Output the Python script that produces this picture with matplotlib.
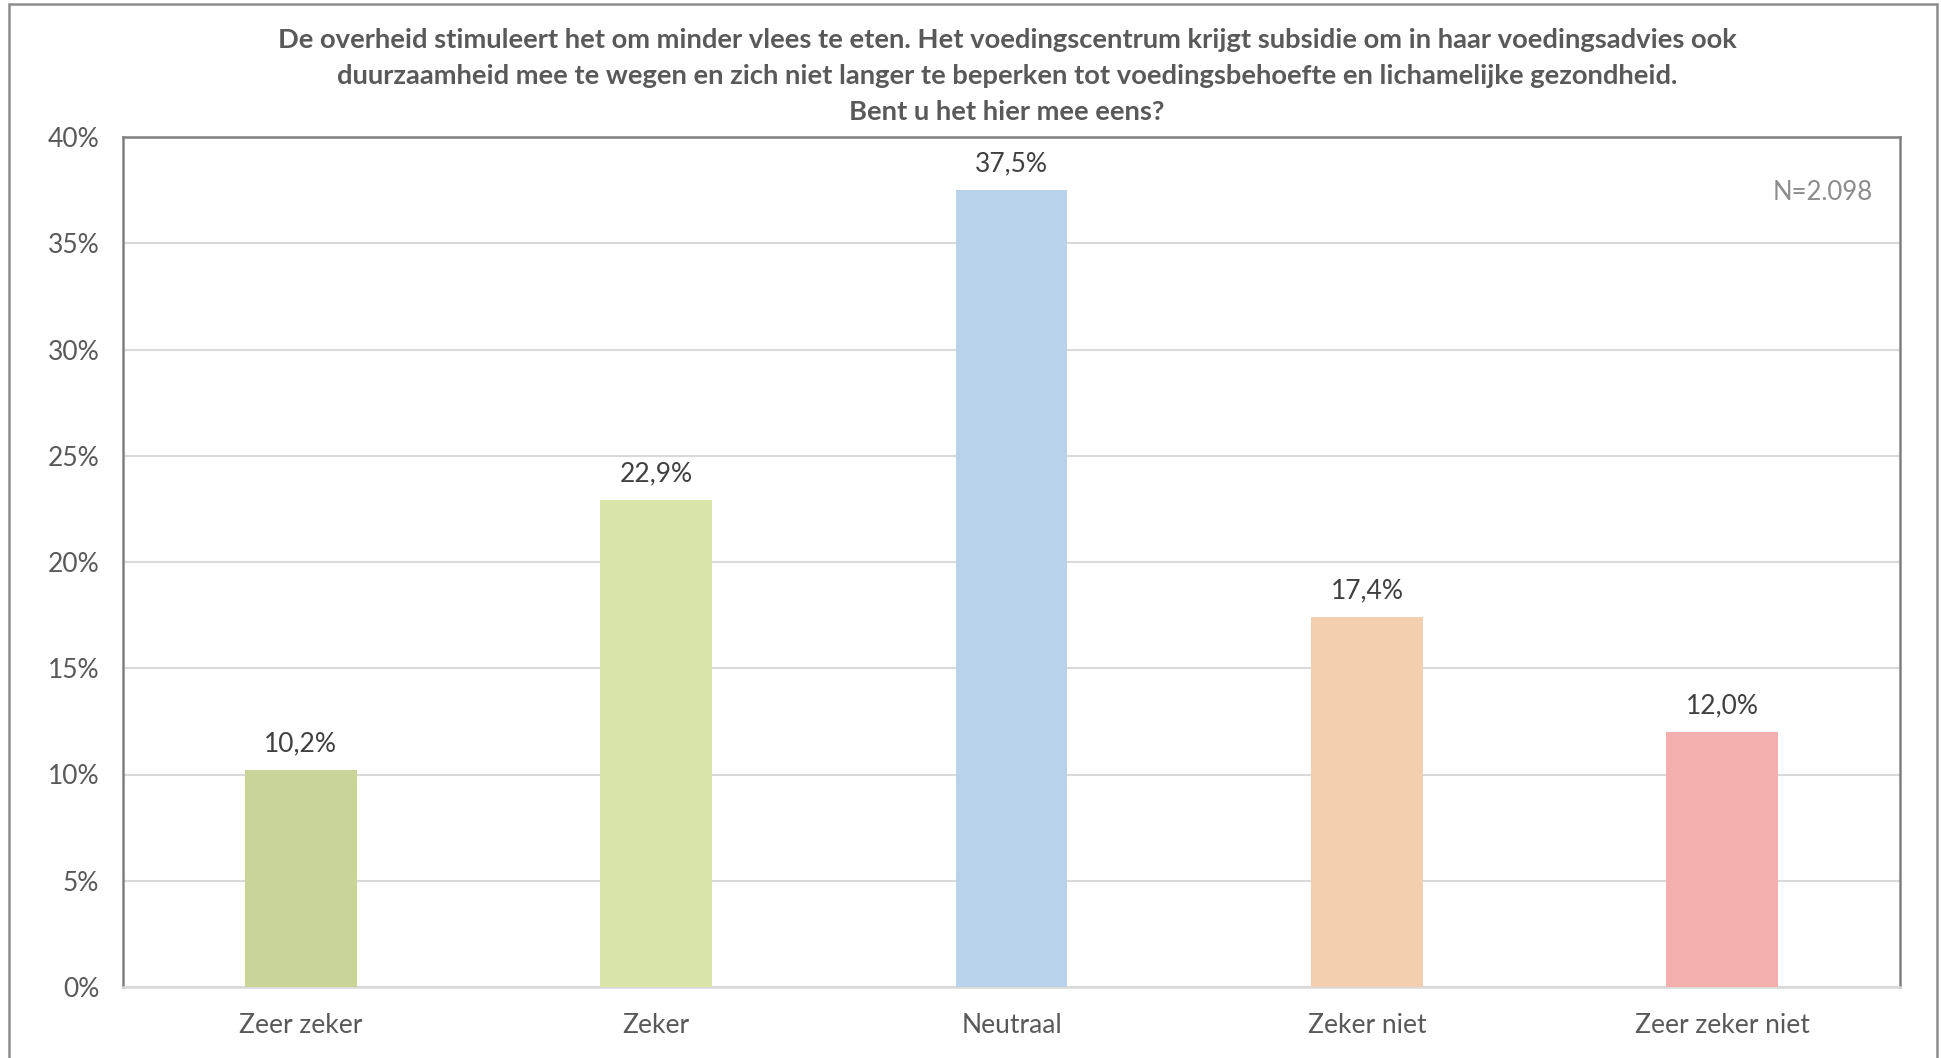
import matplotlib
matplotlib.use("Agg")
import matplotlib.pyplot as plt
from matplotlib.patches import Rectangle

categories = ["Zeer zeker", "Zeker", "Neutraal", "Zeker niet", "Zeer zeker niet"]
values = [10.2, 22.9, 37.5, 17.4, 12.0]
colors = ["#C9D598", "#D9E4A8", "#B8D2EC", "#F3CFAF", "#F2AFAE"]
yticks = [0, 5, 10, 15, 20, 25, 30, 35, 40]
title = ("De overheid stimuleert het om minder vlees te eten. Het voedingscentrum krijgt subsidie om in haar voedingsadvies ook\n"
         "duurzaamheid mee te wegen en zich niet langer te beperken tot voedingsbehoefte en lichamelijke gezondheid.\n"
         "Bent u het hier mee eens?")
note = "N=2.098"

plt.rcParams['font.family'] = ['Lato', 'DejaVu Sans']

W, H = 1941, 1058
fig = plt.figure(figsize=(W / 100, H / 100), dpi=100)
fig.patch.set_facecolor("white")

# outer border
fig.patches.append(Rectangle((9 / W, -0.05), (1937 - 9) / W, 1.05 - 4 / H,
                             transform=fig.transFigure, fill=False,
                             edgecolor="#8C8C8C", linewidth=1.8))

ax = fig.add_axes([123 / W, 1 - 987 / H, (1900 - 123) / W, (987 - 137) / H])
x = list(range(len(categories)))
bars = ax.bar(x, values, width=0.315, color=colors, zorder=3)

ax.set_xlim(-0.5, len(categories) - 0.5)
ax.set_ylim(0, 40)
ax.set_yticks(yticks)
ax.set_yticklabels([f"{v}%" for v in yticks])
ax.set_xticks(x)
ax.set_xticklabels(categories)
ax.tick_params(axis="both", length=0, labelsize=19, colors="#595959")
ax.tick_params(axis="y", pad=17)
ax.tick_params(axis="x", pad=19)
ax.grid(axis="y", color="#D9D9D9", linewidth=1.5, zorder=0)

for side in ["left", "top", "right"]:
    ax.spines[side].set_color("#808080")
    ax.spines[side].set_linewidth(1.8)
ax.spines["bottom"].set_color("#D9D9D9")
ax.spines["bottom"].set_linewidth(1.8)

for xi, v in zip(x, values):
    ax.annotate(f"{v:.1f}%".replace(".", ","), (xi, v), xytext=(0, 10),
                textcoords="offset points", ha="center", va="bottom",
                fontsize=19, color="#404040")

ax.text(0.985, 0.935, note, transform=ax.transAxes, ha="right", va="center",
        fontsize=18.5, color="#8C8C8C")

fig.text(1007 / W, 1 - 76 / H, title, ha="center", va="center", fontsize=19.75,
         fontweight="bold", color="#595959", linespacing=1.58)

fig.savefig("out.png", dpi=100)
